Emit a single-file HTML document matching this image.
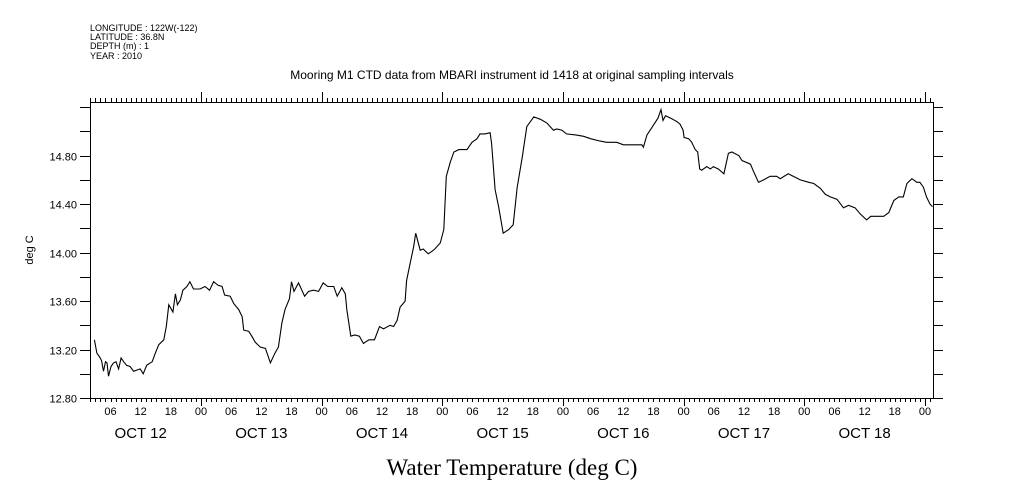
<!DOCTYPE html>
<html><head><meta charset="utf-8"><style>
html,body{margin:0;padding:0;background:#fff;}
svg{display:block;font-family:"Liberation Sans",sans-serif;}
</style></head><body>
<svg id="chart" width="1009" height="504" viewBox="0 0 1009 504" xmlns="http://www.w3.org/2000/svg">
<g font-size="9" fill="#000">
<text x="90" y="31">LONGITUDE : 122W(-122)</text>
<text x="90" y="40">LATITUDE : 36.8N</text>
<text x="90" y="49">DEPTH (m) : 1</text>
<text x="90" y="59">YEAR : 2010</text>
</g>
<text x="512" y="79" font-size="12" text-anchor="middle">Mooring M1 CTD data from MBARI instrument id 1418 at original sampling intervals</text>
<text transform="translate(33,250) rotate(-90)" font-size="11" text-anchor="middle">deg C</text>
<text x="512" y="475" font-size="23" text-anchor="middle" font-family="Liberation Serif, serif">Water Temperature (deg C)</text>
<g id="axes"></g>
<path id="series" fill="none" stroke="#000" stroke-width="1.1"/>
</svg>
<script>
// hours since Oct 12 00:00, 2010
const hours = [2.8,3.3,3.8,4.2,4.6,5.0,5.3,5.6,6.1,6.6,7.1,7.6,8.1,8.6,9.2,9.9,10.6,11.2,11.9,12.5,13.2,14.3,14.9,15.6,16.6,17.1,17.6,18.4,18.9,19.3,19.9,20.4,21.2,21.8,22.5,23.8,24.8,25.7,26.5,27.4,28.2,28.7,29.8,30.5,31.5,32.2,32.5,33.5,34.1,34.8,35.8,36.8,37.8,38.7,39.4,40.1,40.7,41.6,42.0,42.5,43.4,44.6,45.4,46.4,47.4,48.3,49.2,50.4,51.1,52.0,52.7,53.0,53.8,54.6,55.5,56.3,57.4,58.5,59.5,60.3,61.6,62.3,63.0,63.6,64.6,64.9,65.6,66.3,66.7,67.6,68.2,69.2,69.9,70.5,71.6,72.3,72.8,73.6,74.3,75.3,76.9,77.9,78.9,79.5,80.5,81.5,81.8,82.5,83.2,84.1,85.2,86.1,86.9,87.9,88.8,90.2,91.5,92.8,94.1,94.8,95.8,96.7,98.7,100.1,101.5,103.4,104.7,106.7,108.0,110.0,111.7,112.0,112.7,113.8,114.9,115.5,115.9,116.4,117.4,118.7,119.3,119.9,120.1,121.0,121.6,122.3,122.8,123.2,123.6,124.6,125.3,125.9,126.9,128.0,128.9,129.6,131.0,131.6,133.3,133.9,134.9,135.9,137.2,138.5,139.2,140.8,141.8,143.2,144.9,145.9,147.2,148.2,149.2,150.5,151.8,152.8,154.1,155.1,156.4,157.2,158.5,159.8,160.8,161.8,162.8,163.7,164.4,165.4,166.4,167.0,167.7,168.3,169.0,169.5];
const temps = [13.28,13.17,13.14,13.11,13.02,13.10,13.09,12.98,13.06,13.09,13.10,13.04,13.13,13.10,13.07,13.06,13.02,13.03,13.04,13.00,13.07,13.10,13.17,13.24,13.28,13.39,13.57,13.51,13.66,13.57,13.61,13.69,13.72,13.76,13.70,13.70,13.72,13.69,13.76,13.73,13.72,13.65,13.64,13.58,13.53,13.47,13.36,13.35,13.31,13.26,13.22,13.21,13.09,13.17,13.22,13.42,13.53,13.62,13.76,13.68,13.75,13.64,13.68,13.69,13.68,13.75,13.72,13.72,13.64,13.71,13.66,13.53,13.31,13.32,13.31,13.25,13.28,13.28,13.39,13.37,13.40,13.39,13.44,13.55,13.60,13.77,13.91,14.05,14.16,14.02,14.03,13.99,14.01,14.03,14.08,14.19,14.63,14.75,14.83,14.85,14.85,14.91,14.94,14.98,14.98,14.99,14.90,14.52,14.38,14.16,14.19,14.23,14.54,14.79,15.04,15.12,15.10,15.07,15.01,15.02,15.01,14.98,14.97,14.96,14.94,14.92,14.91,14.91,14.89,14.89,14.89,14.87,14.97,15.04,15.11,15.18,15.09,15.13,15.11,15.08,15.06,15.01,14.95,14.94,14.91,14.85,14.83,14.69,14.68,14.71,14.69,14.71,14.69,14.65,14.82,14.83,14.80,14.76,14.73,14.67,14.58,14.60,14.63,14.63,14.61,14.65,14.63,14.60,14.58,14.57,14.53,14.48,14.46,14.44,14.37,14.39,14.37,14.32,14.27,14.30,14.30,14.30,14.33,14.43,14.46,14.46,14.57,14.61,14.58,14.58,14.54,14.46,14.40,14.38];
const yTickLabels = ["12.80","13.20","13.60","14.00","14.40","14.80"];
const hourLabels = ["06","12","18","00"];
const dayLabels = ["OCT 12","OCT 13","OCT 14","OCT 15","OCT 16","OCT 17","OCT 18"];

const L=90, R=933, T=102, B=398, tMin=1.92, tMax=169.6, vMin=12.8, vMax=15.243;
const sx = t => L + (t - tMin) / (tMax - tMin) * (R - L);
const sy = v => B - (v - vMin) / (vMax - vMin) * (B - T);
const NS="http://www.w3.org/2000/svg";
const axes=document.getElementById('axes');
function line(x1,y1,x2,y2,name){
  const l=document.createElementNS(NS,'line');
  l.setAttribute('x1',x1);l.setAttribute('y1',y1);l.setAttribute('x2',x2);l.setAttribute('y2',y2);
  l.setAttribute('stroke','#000');l.setAttribute('stroke-width','1');
  
  
  axes.appendChild(l);return l;
}
function text(x,y,s,size,anchor,name){
  const t=document.createElementNS(NS,'text');
  t.setAttribute('x',x);t.setAttribute('y',y);t.setAttribute('font-size',size);t.setAttribute('text-anchor',anchor);
  t.textContent=s;
  
  
  axes.appendChild(t);
}
line(L+0.5,T,L+0.5,B,'left-axis');
line(R+0.5,T,R+0.5,B,'right-axis');
line(L,T+0.5,R+1,T+0.5,'top-axis');
line(L,B+0.5,R+1,B+0.5,'bottom-axis');
for(let h=Math.ceil(tMin);h<=tMax;h++){
  const x=Math.round(sx(h))+0.5;
  const major = h%24===0;
  line(x,T,x,T-(major?10:4),'top-tick');
  line(x,B,x,B+(major?8:4),'bottom-tick');
}
for(let h=6;h<=tMax;h+=6){
  text(sx(h),415,hourLabels[(h/6-1)%4],11,'middle','x-tick-label');
}
dayLabels.forEach((d,i)=>{ text(sx(i*24+12),438,d,15,'middle','day-label'); });
yTickLabels.forEach((s,i)=>{
  const y=Math.round(sy(parseFloat(s)))+0.5;
  text(L-13,y+4,s,11,'end','y-tick-label');
});
for(let v=vMin; v<vMax; v+=0.2){
  const y=Math.round(sy(v))+0.5;
  line(L-10,y,L,y,'left-tick');
  line(R,y,R+10,y,'right-tick');
}
let d='';
hours.forEach((h,i)=>{ d+=(i?'L':'M')+sx(h).toFixed(1)+' '+sy(temps[i]).toFixed(1); });
document.getElementById('series').setAttribute('d',d);
</script>
</body></html>
